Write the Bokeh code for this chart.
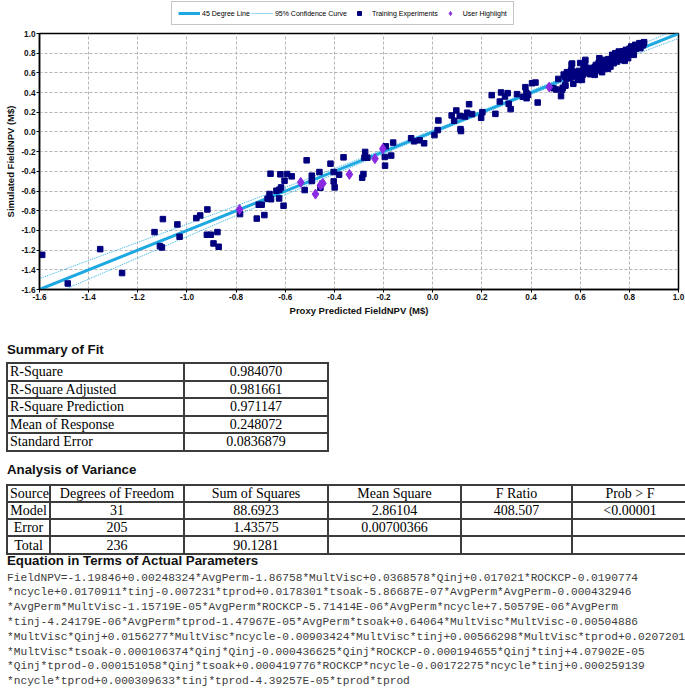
import html as _html
from bokeh.plotting import figure
from bokeh.models import Range1d, FixedTicker, PrintfTickFormatter, Legend, LegendItem, Div
from bokeh.layouts import column
from bokeh.embed import file_html
from bokeh.resources import INLINE

# ---------------- data ----------------
train_x = [
    -1.589, -1.485, -1.353, -1.264, -1.132, -1.098, -1.110, -1.102, -1.039, -1.030, -0.962, -0.946, -0.917, -0.919, -0.903, -0.876, -0.892, -0.871,
    -0.784, -0.716, -0.685, -0.708, -0.696, -0.664, -0.672, -0.658, -0.625, -0.607, -0.636, -0.624, -0.617, -0.660, -0.620, -0.593, -0.574, -0.603,
    -0.521, -0.513, -0.492, -0.492, -0.457, -0.461, -0.416, -0.403, -0.403, -0.399, -0.381, -0.363, -0.287, -0.282, -0.275, -0.278, -0.266, -0.191,
    -0.195, -0.169, -0.194, -0.161, -0.088, -0.076, -0.053, -0.035,
    0.007, 0.020, 0.023, 0.077, 0.087, 0.096, 0.110, 0.113, 0.115, 0.132, 0.140, 0.148, 0.160, 0.197, 0.202, 0.255, 0.240, 0.273, 0.278, 0.294,
    0.305, 0.309, 0.317, 0.343, 0.367, 0.377, 0.381, 0.382, 0.388, 0.404, 0.418, 0.427, 0.491, 0.502, 0.511, 0.522, 0.526, 0.533, 0.538, 0.544,
    0.546, 0.565, 0.563, 0.572, 0.529, 0.595, 0.590,
    0.540, 0.537, 0.551, 0.567, 0.564, 0.574, 0.580, 0.594, 0.601, 0.607, 0.614, 0.621, 0.628, 0.635, 0.641, 0.651, 0.659, 0.664, 0.668, 0.678,
    0.682, 0.689, 0.696, 0.700, 0.702, 0.709, 0.713, 0.719, 0.723, 0.730, 0.732, 0.736, 0.743, 0.746, 0.750, 0.757, 0.759, 0.763, 0.770, 0.777,
    0.781, 0.786, 0.790, 0.795, 0.800, 0.804, 0.808, 0.814, 0.818, 0.824, 0.827, 0.835, 0.841, 0.845, 0.852, 0.860,
    0.580, 0.590, 0.600, 0.610, 0.620, 0.630, 0.640, 0.645, 0.655, 0.660, 0.670, 0.675, 0.685, 0.690, 0.695, 0.705, 0.710, 0.715, 0.720, 0.725,
    0.735, 0.740, 0.745, 0.752, 0.755, 0.762, 0.765, 0.772, 0.775, 0.780, 0.785, 0.792, 0.797, 0.802, 0.806, 0.810, 0.816, 0.820, 0.830, 0.838,
    0.843, 0.850, 0.855, 0.858, 0.620, 0.600, 0.560, 0.570,
]
train_y = [
    -1.248, -1.539, -1.190, -1.433, -1.017, -0.885, -1.159, -1.173, -0.939, -1.064, -0.875, -0.848, -0.787, -1.044, -1.044, -1.017, -1.132, -1.166,
    -0.834, -0.880, -0.844, -0.739, -0.739, -0.630, -0.678, -0.683, -0.675, -0.749, -0.597, -0.586, -0.563, -0.424, -0.430, -0.427, -0.451, -0.495,
    -0.590, -0.288, -0.444, -0.498, -0.566, -0.407, -0.322, -0.407, -0.502, -0.563, -0.434, -0.258, -0.464, -0.427, -0.203, -0.261, -0.261, -0.146,
    -0.254, -0.240, -0.342, -0.108, -0.064, -0.095, -0.085, -0.115,
    -0.032, 0.019, 0.117, 0.168, 0.114, 0.218, 0.161, 0.029, 0.009, 0.157, 0.195, 0.282, 0.181, 0.144, 0.201, 0.184, 0.374, 0.309, 0.401, 0.360,
    0.394, 0.286, 0.232, 0.384, 0.357, 0.455, 0.397, 0.343, 0.377, 0.495, 0.502, 0.299, 0.445, 0.431, 0.539, 0.364, 0.428, 0.583, 0.472, 0.539,
    0.607, 0.684, 0.624, 0.489, 0.448, 0.529, 0.593,
    0.471, 0.563, 0.586, 0.695, 0.624, 0.563, 0.580, 0.620, 0.570, 0.529, 0.641, 0.732, 0.597, 0.631, 0.586, 0.614, 0.580, 0.681, 0.624, 0.749,
    0.647, 0.607, 0.681, 0.654, 0.732, 0.698, 0.641, 0.715, 0.664, 0.783, 0.742, 0.698, 0.800, 0.756, 0.715, 0.817, 0.776, 0.732, 0.810, 0.766,
    0.722, 0.834, 0.790, 0.749, 0.844, 0.800, 0.868, 0.824, 0.783, 0.885, 0.844, 0.868, 0.902, 0.851, 0.892, 0.912,
    0.610, 0.550, 0.600, 0.580, 0.600, 0.620, 0.650, 0.610, 0.640, 0.660, 0.660, 0.700, 0.690, 0.720, 0.660, 0.710, 0.680, 0.740, 0.690, 0.730,
    0.760, 0.720, 0.780, 0.740, 0.790, 0.800, 0.750, 0.790, 0.820, 0.780, 0.800, 0.820, 0.800, 0.830, 0.850, 0.810, 0.860, 0.840, 0.860, 0.880,
    0.870, 0.900, 0.880, 0.900, 0.690, 0.700, 0.550, 0.600,
]
user_x = [-0.786, -0.537, -0.477, -0.447, -0.457, -0.339, -0.235, -0.203, 0.474]
user_y = [-0.787, -0.512, -0.631, -0.522, -0.540, -0.431, -0.271, -0.170, 0.456]

line45_x = [-1.6, 1.0]
line45_y = [-1.6, 1.0]

ci_x = [-1.6, -1.4, -1.2, -1.0, -0.8, -0.6, -0.4, -0.2, 0.0, 0.2, 0.4, 0.6, 0.8, 1.0]
ci_upper = [-1.49, -1.305, -1.121, -0.937, -0.751, -0.563, -0.372, -0.179, 0.017, 0.216, 0.418, 0.625, 0.836, 1.05]
ci_lower = [-1.71, -1.495, -1.279, -1.063, -0.849, -0.637, -0.428, -0.221, -0.017, 0.184, 0.382, 0.575, 0.764, 0.95]

tick_values = [-1.6, -1.4, -1.2, -1.0, -0.8, -0.6, -0.4, -0.2, 0.0, 0.2, 0.4, 0.6, 0.8, 1.0]

legend_labels = ["45 Degree Line", "95% Confidence Curve", "Training Experiments", "User Highlight"]

summary_title = "Summary of Fit"
summary_labels = ["R-Square", "R-Square Adjusted", "R-Square Prediction", "Mean of Response", "Standard Error"]
summary_values = ["0.984070", "0.981661", "0.971147", "0.248072", "0.0836879"]

anova_title = "Analysis of Variance"
anova_header = ["Source", "Degrees of Freedom", "Sum of Squares", "Mean Square", "F Ratio", "Prob > F"]
anova_source = ["Model", "Error", "Total"]
anova_df = ["31", "205", "236"]
anova_ss = ["88.6923", "1.43575", "90.1281"]
anova_ms = ["2.86104", "0.00700366", ""]
anova_f = ["408.507", "", ""]
anova_p = ["<0.00001", "", ""]

equation_title = "Equation in Terms of Actual Parameters"
equation_lines = [
    "FieldNPV=-1.19846+0.00248324*AvgPerm-1.86758*MultVisc+0.0368578*Qinj+0.017021*ROCKCP-0.0190774",
    "*ncycle+0.0170911*tinj-0.007231*tprod+0.0178301*tsoak-5.86687E-07*AvgPerm*AvgPerm-0.000432946",
    "*AvgPerm*MultVisc-1.15719E-05*AvgPerm*ROCKCP-5.71414E-06*AvgPerm*ncycle+7.50579E-06*AvgPerm",
    "*tinj-4.24179E-06*AvgPerm*tprod-1.47967E-05*AvgPerm*tsoak+0.64064*MultVisc*MultVisc-0.00504886",
    "*MultVisc*Qinj+0.0156277*MultVisc*ncycle-0.00903424*MultVisc*tinj+0.00566298*MultVisc*tprod+0.0207201",
    "*MultVisc*tsoak-0.000106374*Qinj*Qinj-0.000436625*Qinj*ROCKCP-0.000194655*Qinj*tinj+4.07902E-05",
    "*Qinj*tprod-0.000151058*Qinj*tsoak+0.000419776*ROCKCP*ncycle-0.00172275*ncycle*tinj+0.000259139",
    "*ncycle*tprod+0.000309633*tinj*tprod-4.39257E-05*tprod*tprod",
]

# ---------------- styles ----------------
SANS = "Liberation Sans"
C45 = "#1ea8e1"
CCI = "#2fb0e4"
CTR = "#00007f"
CUS = "#8a2be2"
NAN = float("nan")

# ---------------- legend strip ----------------
LH = 28
lg = figure(width=685, height=LH, x_range=Range1d(0, 1), y_range=Range1d(0, 1),
            output_backend="svg", toolbar_location=None, x_axis_type=None, y_axis_type=None,
            min_border_left=39, min_border_right=7, min_border_top=0, min_border_bottom=0)
lg.outline_line_color = None
lg.grid.visible = False
d45 = lg.line([NAN], [NAN], line_color=C45, line_width=3)
dci = lg.line([NAN], [NAN], line_color=CCI, line_width=1, line_dash="1 1")
dtr = lg.scatter([NAN], [NAN], marker="square", size=5.5, fill_color=CTR, line_color=CTR)
dus = lg.scatter([NAN], [NAN], marker="diamond", size=10, fill_color=CUS, line_color=CUS)
legend = Legend(
    items=[LegendItem(label=legend_labels[0], renderers=[d45]),
           LegendItem(label=legend_labels[1], renderers=[dci]),
           LegendItem(label=legend_labels[2], renderers=[dtr]),
           LegendItem(label=legend_labels[3], renderers=[dus])],
    location=(132, 3), orientation="horizontal",
    glyph_width=22, glyph_height=10, label_height=10, label_standoff=2,
    spacing=1, padding=6, margin=0,
    label_text_font=SANS, label_text_font_size="7px", label_text_color="#000000",
    border_line_color="#8c8c8c", border_line_width=1, background_fill_color="white", background_fill_alpha=1,
)
lg.add_layout(legend, "center")

# ---------------- chart ----------------
CH = 332 - LH
p = figure(width=685, height=CH, x_range=Range1d(-1.6, 1.0), y_range=Range1d(-1.6, 1.0),
           output_backend="svg", toolbar_location=None,
           min_border_left=39, min_border_right=7, min_border_top=33 - LH, min_border_bottom=332 - 289)
p.background_fill_color = "white"
p.border_fill_color = "white"
p.outline_line_color = "black"
p.outline_line_width = 1.5

for ax in (p.xaxis[0], p.yaxis[0]):
    ax.ticker = FixedTicker(ticks=tick_values)
    ax.formatter = PrintfTickFormatter(format="%.1f")
    ax.major_label_text_font = SANS
    ax.major_label_text_font_size = "8.2px"
    ax.major_label_text_font_style = "bold"
    ax.major_label_text_color = "#111111"
    ax.minor_tick_line_color = None
    ax.major_tick_in = 0
    ax.major_tick_out = 3
    ax.major_label_standoff = 1
    ax.axis_line_width = 1.5
    ax.axis_line_color = "black"
    ax.axis_label_text_font = SANS
    ax.axis_label_text_font_size = "9.5px"
    ax.axis_label_text_font_style = "bold"
    ax.axis_label_text_color = "#111111"
    ax.axis_label_standoff = 2
p.xaxis.axis_label = "Proxy Predicted FieldNPV (M$)"
p.yaxis.axis_label = "Simulated FieldNPV (M$)"

p.grid.grid_line_color = "#b4b4b4"
p.grid.grid_line_dash = "3 2"
p.grid.grid_line_width = 1

p.line(ci_x, ci_upper, line_color=CCI, line_width=1, line_dash="1 1")
p.line(ci_x, ci_lower, line_color=CCI, line_width=1, line_dash="1 1")
p.line(line45_x, line45_y, line_color=C45, line_width=3)
p.scatter(train_x, train_y, marker="square", size=5.5, fill_color=CTR, line_color=CTR)
p.scatter(user_x, user_y, marker="diamond", size=10, fill_color=CUS, line_color=CUS)

# ---------------- tables & equation (HTML) ----------------
DIV_START = 332
TOP = DIV_START + 4.5
DIV_H = 690 - DIV_START - 5
BORDER = "2px solid #3c3c3c"
e = _html.escape


def head(txt, baseline):
    top = baseline - 12.1 - TOP
    return (f'<div style="position:absolute;left:2px;top:{top:.1f}px;font-family:\'Liberation Sans\';'
            f'font-weight:bold;font-size:13.3px;line-height:15px;color:#111;white-space:nowrap;">{e(txt)}</div>')


def table(left, top, widths, rows, row_h, aligns):
    cols = "".join(f'<col style="width:{w}px">' for w in widths)
    body = ""
    for r in rows:
        cells = "".join(
            f'<td style="border:{BORDER};padding:0 2px;text-align:{a};white-space:nowrap;overflow:hidden;">{e(c)}</td>'
            for c, a in zip(r, aligns))
        body += f'<tr style="height:{row_h}px;">{cells}</tr>'
    return (f'<table style="position:absolute;left:{left}px;top:{top - TOP:.1f}px;width:{sum(widths)}px;'
            f'border-collapse:collapse;table-layout:fixed;font-family:\'Liberation Serif\';font-size:14px;'
            f'line-height:15px;color:#000;">{cols}{body}</table>')


summary_rows = [[a, b] for a, b in zip(summary_labels, summary_values)]
anova_rows = [anova_header] + [list(r) for r in zip(anova_source, anova_df, anova_ss, anova_ms, anova_f, anova_p)]

eq_text = "<br>".join(e(s) for s in equation_lines)
eq_div = (f'<div style="position:absolute;left:2px;top:{570.1 - TOP:.1f}px;font-family:\'Liberation Mono\';'
          f'font-size:11.2px;line-height:14.8px;color:#3c3c3c;white-space:pre;">{eq_text}</div>')

page = (f'<div style="position:relative;width:685px;height:{DIV_H}px;background:white;">'
        + head(summary_title, 353.3)
        + table(1, 361.5, [177, 144], summary_rows, 17.5, ["left", "center"])
        + head(anova_title, 473.3)
        + table(1, 483, [43, 134, 144, 133, 111, 116], anova_rows, 17.3, ["center"] * 6)
        + head(equation_title, 564.8)
        + eq_div
        + '</div>')

d = Div(text=page, width=685, height=DIV_H)

layout = column(lg, p, d, spacing=0)
open("out.html", "w").write(file_html(layout, INLINE))
